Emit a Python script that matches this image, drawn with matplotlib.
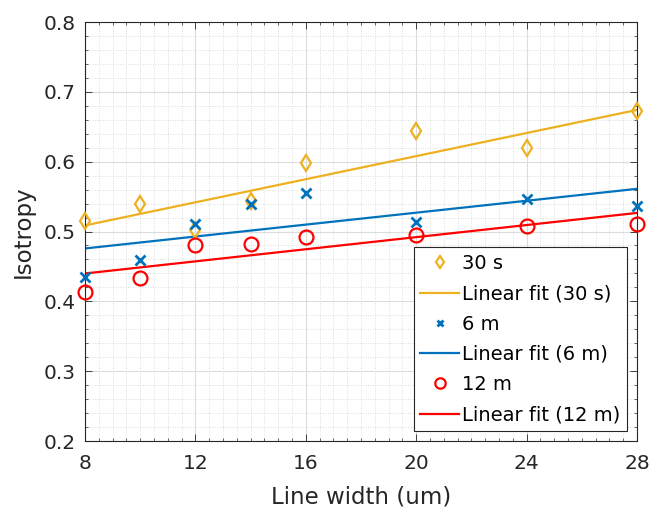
"""Isotropy vs line width, three exposure times with linear fits (MATLAB-style look)."""
import numpy as np
import matplotlib
matplotlib.use("Agg")
import matplotlib.pyplot as plt
from matplotlib.ticker import MultipleLocator

plt.rcParams["font.family"] = ["DejaVu Sans"]

# data
line_width = [8, 10, 12, 14, 16, 20, 24, 28]
iso_30s = [0.515, 0.539, 0.502, 0.543, 0.598, 0.644, 0.619, 0.672]
iso_6m = [0.435, 0.459, 0.511, 0.539, 0.555, 0.514, 0.547, 0.536]
iso_12m = [0.413, 0.433, 0.480, 0.482, 0.492, 0.495, 0.508, 0.511]

labels = ["30 s", "6 m", "12 m"]
x_ticks = [8, 12, 16, 20, 24, 28]

YELLOW, BLUE, RED = "#EDB120", "#0072BD", "#FF0000"
TXT = "#262626"

fig = plt.figure(figsize=(6.62, 5.11), dpi=100)
ax = fig.add_axes([85 / 662, 70 / 511, 552 / 662, 419 / 511])

x = np.array(line_width, dtype=float)
xx = np.array([x.min(), x.max()])

series = [
    (iso_30s, labels[0], YELLOW, dict(marker="d", ms=8.5, mfc="none", mew=1.6)),
    (iso_6m, labels[1], BLUE, dict(marker="x", ms=6.5, mew=2.0)),
    (iso_12m, labels[2], RED, dict(marker="o", ms=10, mfc="none", mew=1.6)),
]
for ys, lab, col, mk in series:
    ax.plot(x, ys, ls="none", color=col, label=lab, zorder=3, clip_on=False, **mk)
    k, b = np.polyfit(x, ys, 1)
    ax.plot(xx, k * xx + b, color=col, lw=1.6, label=f"Linear fit ({lab})", zorder=2)

ax.set_xlim(8, 28)
ax.set_ylim(0.2, 0.8)
ax.set_xticks(x_ticks)
ax.xaxis.set_minor_locator(MultipleLocator(0.5))
ax.yaxis.set_major_locator(MultipleLocator(0.1))
ax.yaxis.set_minor_locator(MultipleLocator(0.02))

ax.grid(which="major", color="#dcdcdc", lw=0.8)
ax.grid(which="minor", color="#d0d0d0", lw=0.6, ls=(0, (1, 2)))
ax.set_axisbelow(True)

ax.tick_params(which="both", direction="in", top=True, right=True,
               colors=TXT, labelsize=14.5, labelcolor=TXT)
ax.tick_params(which="major", length=5, width=0.6)
ax.tick_params(which="minor", length=2.5, width=0.5)
ax.tick_params(axis="x", pad=9)
ax.tick_params(axis="y", pad=7)
for s in ax.spines.values():
    s.set_color(TXT)
    s.set_linewidth(0.8)

ax.set_xlabel("Line width (um)", fontsize=16.5, color=TXT, labelpad=9)
ax.set_ylabel("Isotropy", fontsize=16.5, color=TXT, labelpad=6)

leg = ax.legend(loc="lower right", fontsize=14, fancybox=False, framealpha=1,
                edgecolor=TXT, handlelength=2.0, handletextpad=0.15,
                labelspacing=0.58, borderaxespad=0.5, borderpad=0.35,
                markerscale=0.75)
leg.get_frame().set_linewidth(0.8)

fig.savefig("out.png", dpi=100)
